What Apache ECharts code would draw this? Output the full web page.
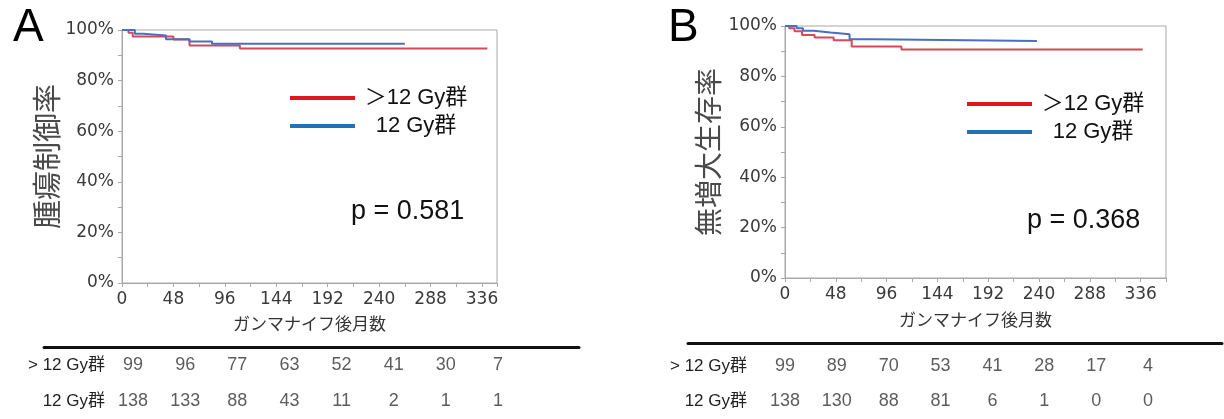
<!DOCTYPE html>
<html><head><meta charset="utf-8">
<script src="https://cdn.jsdelivr.net/npm/echarts@6/dist/echarts.min.js"></script>
<style>html,body{margin:0;padding:0;background:#fff}#c{width:1224px;height:419px}</style>
</head><body><div id="c"></div>
<script>
// ---- data ----
const groupNames = ['＞12 Gy群', '12 Gy群'];
const riskRowLabels = ['> 12 Gy群', '12 Gy群'];
const riskTimes = ['0', '48', '96', '144', '192', '240', '288', '336'];

// Panel A: 腫瘍制御率 (months, %)
const aOverT = [0, 6, 10, 48, 63, 110, 341];
const aOverS = [100, 98.9, 97.4, 96.2, 93.9, 92.7, 92.7];
const aEqT = [0, 12, 20, 41, 63, 84, 264];
const aEqS = [100, 98.5, 97.8, 96.3, 95.5, 94.6, 94.6];

// Panel B: 無増大生存率 (months, %)
const bOverT = [0, 4, 9, 16, 28, 46, 63, 110, 338];
const bOverS = [100, 99.1, 97.9, 96.4, 95.4, 94.3, 91.9, 90.7, 90.7];
const bEqT = [0, 11, 17, 27, 43, 61, 84, 238];
const bEqS = [100, 99.1, 98.1, 97.4, 96.7, 94.7, 94.0, 94.0];

// numbers at risk
const riskAOver = [99, 96, 77, 63, 52, 41, 30, 7];
const riskAEq = [138, 133, 88, 43, 11, 2, 1, 1];
const riskBOver = [99, 89, 70, 53, 41, 28, 17, 4];
const riskBEq = [138, 130, 88, 81, 6, 1, 0, 0];

const pA = 'p = 0.581';
const pB = 'p = 0.368';
const yNameA = '腫瘍制御率';
const yNameB = '無増大生存率';
const xName = 'ガンマナイフ後月数';

// ---- styles ----
const curveRed = '#d44a58', curveBlue = '#4a6ec2';
const legRed = '#e3151d', legBlue = '#2372b8';
const gray = '#a8a8a8';
const tickFont = 'DejaVu Sans';
const latin = "'Liberation Sans', 'Noto Sans CJK JP', sans-serif";
const narrow = "'Liberation Sans Narrow', 'Liberation Sans', 'Noto Sans CJK JP', sans-serif";
const cjk = "'Noto Sans CJK JP', sans-serif";

const zip = (t, s) => t.map((v, i) => [v, s[i]]);

function plotX(grid, max, gap) {
  return {
    gridIndex: grid, type: 'value', min: 0, max: max, interval: 24,
    axisLine: {show: true, lineStyle: {color: gray, width: 1}},
    axisTick: {show: true, length: 4, lineStyle: {color: gray}},
    axisLabel: {margin: 8, fontSize: 17, color: '#3a3a3a', fontFamily: tickFont,
      formatter: v => (v % 48 === 0 ? String(v) : '')},
    splitLine: {show: false},
    name: xName, nameLocation: 'middle', nameGap: gap,
    nameTextStyle: {fontSize: 17, color: '#333', fontFamily: cjk}
  };
}
function plotY(grid, name, gap, fs) {
  return {
    gridIndex: grid, type: 'value', min: 0, max: 100, interval: 10,
    axisLine: {show: true, lineStyle: {color: gray, width: 1}},
    axisTick: {show: true, length: 4, lineStyle: {color: gray}},
    axisLabel: {margin: 8, fontSize: 17, color: '#3a3a3a', fontFamily: tickFont,
      formatter: v => (v % 20 === 0 ? v + '%' : '')},
    splitLine: {show: false},
    name: name, nameLocation: 'middle', nameGap: gap,
    nameTextStyle: {fontSize: fs, color: '#4a4a4a', fontFamily: cjk}
  };
}
function curve(name, t, s, xi, color) {
  return {name: name, type: 'line', xAxisIndex: xi, yAxisIndex: xi, step: 'end',
    showSymbol: false, data: zip(t, s), lineStyle: {color: color, width: 2},
    itemStyle: {color: color}, silent: true};
}
function riskRow(id, vals, row, ai) {
  return {name: id, type: 'scatter', xAxisIndex: ai, yAxisIndex: ai, symbolSize: 1,
    itemStyle: {color: 'rgba(0,0,0,0)'}, silent: true,
    data: vals.map((v, i) => [i, row, v]),
    label: {show: true, position: 'inside', formatter: p => String(p.value[2]),
      fontSize: 18, color: '#333', fontFamily: narrow}};
}
function lineGrid(grid) {
  return {gridIndex: grid, type: 'value', min: 0, max: 1, show: true,
    axisLine: {show: true, lineStyle: {color: '#111', width: 3}},
    axisTick: {show: false}, axisLabel: {show: false}, splitLine: {show: false}};
}
function legend(left, top) {
  return {show: true, orient: 'vertical', left: left, top: top, selectedMode: false,
    icon: 'rect', itemWidth: 65, itemHeight: 4, itemGap: 6,
    formatter: '{a|{name}}',
    textStyle: {rich: {a: {width: 112, align: 'center', fontSize: 22, lineHeight: 26,
      color: '#111', fontFamily: latin}}},
    data: [{name: groupNames[0], itemStyle: {color: legRed}},
           {name: groupNames[1], itemStyle: {color: legBlue}}]};
}

const option = {
  animation: false,
  backgroundColor: '#fff',
  title: [
    {text: 'A', left: 8, top: 0, textStyle: {fontSize: 46, fontWeight: 'normal', color: '#000', fontFamily: latin}},
    {text: 'B', left: 663, top: 0, textStyle: {fontSize: 46, fontWeight: 'normal', color: '#000', fontFamily: latin}},
    {text: pA, left: 346, top: 193, textStyle: {fontSize: 27, fontWeight: 'normal', color: '#111', fontFamily: latin}},
    {text: pB, left: 1022, top: 202, textStyle: {fontSize: 27, fontWeight: 'normal', color: '#111', fontFamily: latin}}
  ],
  legend: [legend(285, 82), legend(962, 88)],
  grid: [
    {left: 122, top: 30, width: 375, height: 253, show: true, borderColor: gray, borderWidth: 1},
    {left: 785, top: 26, width: 381, height: 252, show: true, borderColor: gray, borderWidth: 1},
    {left: 107, top: 347, width: 417, height: 83},
    {left: 759, top: 348.5, width: 415, height: 77},
    {left: 44, top: 346.5, width: 535, height: 1},
    {left: 688, top: 342.5, width: 534, height: 1}
  ],
  xAxis: [
    plotX(0, 350, 32),
    plotX(1, 360, 33),
    {gridIndex: 2, type: 'category', data: riskTimes, show: false},
    {gridIndex: 3, type: 'category', data: riskTimes, show: false},
    lineGrid(4),
    lineGrid(5)
  ],
  yAxis: [
    plotY(0, yNameA, 60, 29),
    plotY(1, yNameB, 63, 28),
    {gridIndex: 2, type: 'category', data: riskRowLabels, inverse: true,
      axisLine: {show: false}, axisTick: {show: false},
      axisLabel: {margin: 2, fontSize: 17, color: '#222', fontFamily: narrow}},
    {gridIndex: 3, type: 'category', data: riskRowLabels, inverse: true,
      axisLine: {show: false}, axisTick: {show: false},
      axisLabel: {margin: 12, fontSize: 17, color: '#222', fontFamily: narrow}},
    {gridIndex: 4, type: 'value', show: false, min: 0, max: 1},
    {gridIndex: 5, type: 'value', show: false, min: 0, max: 1}
  ],
  series: [
    curve(groupNames[0], aOverT, aOverS, 0, curveRed),
    curve(groupNames[1], aEqT, aEqS, 0, curveBlue),
    curve(groupNames[0], bOverT, bOverS, 1, curveRed),
    curve(groupNames[1], bEqT, bEqS, 1, curveBlue),
    riskRow('riskA1', riskAOver, 0, 2),
    riskRow('riskA2', riskAEq, 1, 2),
    riskRow('riskB1', riskBOver, 0, 3),
    riskRow('riskB2', riskBEq, 1, 3)
  ]
};
const chart = echarts.init(document.getElementById('c'), null, {renderer: 'canvas'});
chart.setOption(option);
</script>
</body></html>
